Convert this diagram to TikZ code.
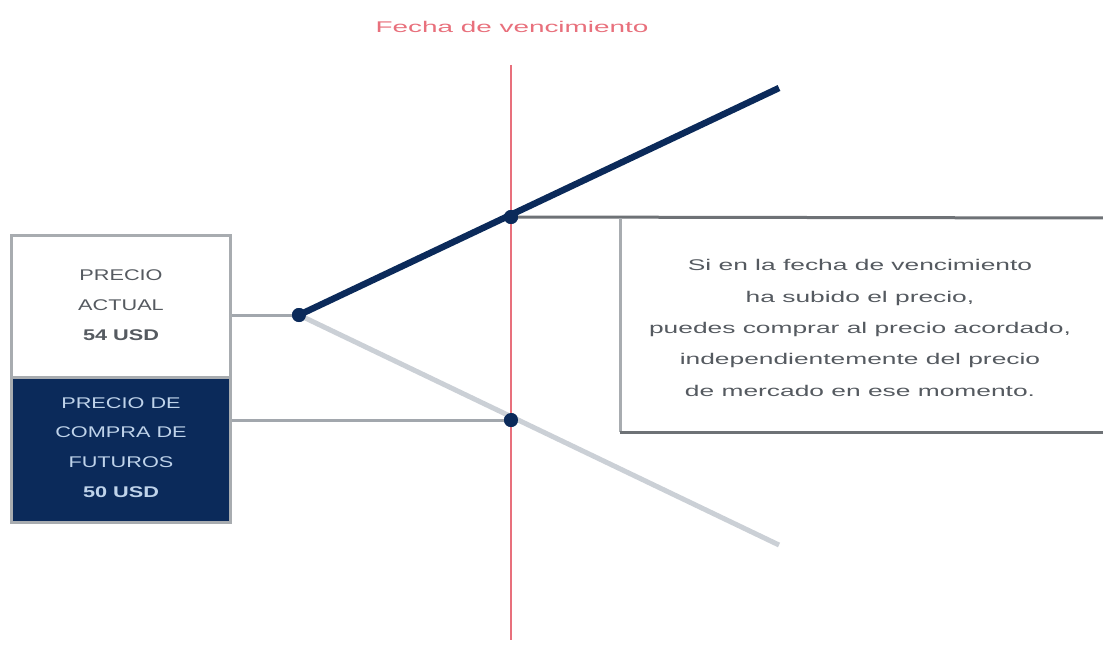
\documentclass[tikz,border=0pt]{standalone}
\usepackage{fontspec}
\setmainfont{Liberation Sans}
\newfontfamily\titlefont[FakeStretch=1.8]{Liberation Sans}
\newfontfamily\boxfont[FakeStretch=1.4]{Liberation Sans}
\newfontfamily\infofont[FakeStretch=1.7]{Liberation Sans}
\definecolor{navy}{HTML}{0B2A5A}
\definecolor{redline}{HTML}{E8707C}
\definecolor{conn}{HTML}{A2A7AD}
\definecolor{lightline}{HTML}{CBD0D6}
\definecolor{boxborder}{HTML}{A8ACB0}
\definecolor{darkborder}{HTML}{6E7276}
\definecolor{txtgray}{HTML}{555A60}
\definecolor{paleblue}{HTML}{BFD3EA}
\begin{document}
\begin{tikzpicture}[x=1pt,y=-1pt,
  dot/.style={circle,fill=navy,inner sep=0pt,minimum size=14pt},
  pricebox/.style={rectangle,minimum width=219pt,draw=boxborder,line width=3pt,inner sep=0pt},
  pricetext/.style={align=center,font=\boxfont\fontsize{15.5}{29.7}\selectfont,inner sep=0pt},
  connector/.style={draw=conn,line width=3pt},
  labeltext/.style={align=center,font=\infofont\fontsize{15.5}{31.3}\selectfont,text=txtgray,inner sep=0pt}
]
\useasboundingbox (0,0) rectangle (1103,666);
% vertical expiration line
\coordinate (vtop) at (511,65);
\coordinate (vbot) at (511,640);
\draw[redline,line width=2.5pt] (vtop) -- (vbot);
\node[font=\titlefont\fontsize{15.5}{16}\selectfont,text=redline] (title) at (512,27) {Fecha de vencimiento};
% left boxes
\node[pricebox,minimum height=142pt,fill=white] (actual) at (121,306) {};
\node[pricebox,minimum height=145pt,fill=navy] (futuros) at (121,449.5) {};
\node[pricetext,text=txtgray] (actualtext) at (121,305) {PRECIO\\ACTUAL\\\textbf{54 USD}};
\node[pricetext,text=paleblue] (futurostext) at (121,447.5) {PRECIO DE\\COMPRA DE\\FUTUROS\\\textbf{50 USD}};
% dots
\node[dot] (d1) at (299,315) {};
\node[dot] (d2) at (511,217) {};
\node[dot] (d3) at (511,420) {};
\coordinate (e1) at (779,88);
\coordinate (e2) at (779,545);
% price lines
\draw[lightline,line width=5pt] (d1.center) -- (e2);
\draw[navy,line width=6.5pt] (d1.center) -- (e1);
% connectors
\draw[connector] (actual.east |- d1) -- (d1);
\draw[connector] (futuros.east |- d3) -- (d3);
% right explanation box
\node[minimum width=483pt,minimum height=214pt,anchor=north west] (info) at (620,218) {};
\node[labeltext] (infotext) at (860,328) {Si en la fecha de vencimiento\\ha subido el precio,\\puedes comprar al precio acordado,\\independientemente del precio\\de mercado en ese momento.};
\draw[darkborder,line width=3pt] (d2) -- (info.north east);
\draw[boxborder,line width=3pt] (info.north west) -- (info.south west);
\draw[darkborder,line width=3pt] (info.south west) -- (info.south east);
\node[dot] at (d1) {};
\node[dot] at (d2) {};
\node[dot] at (d3) {};
\end{tikzpicture}
\end{document}
